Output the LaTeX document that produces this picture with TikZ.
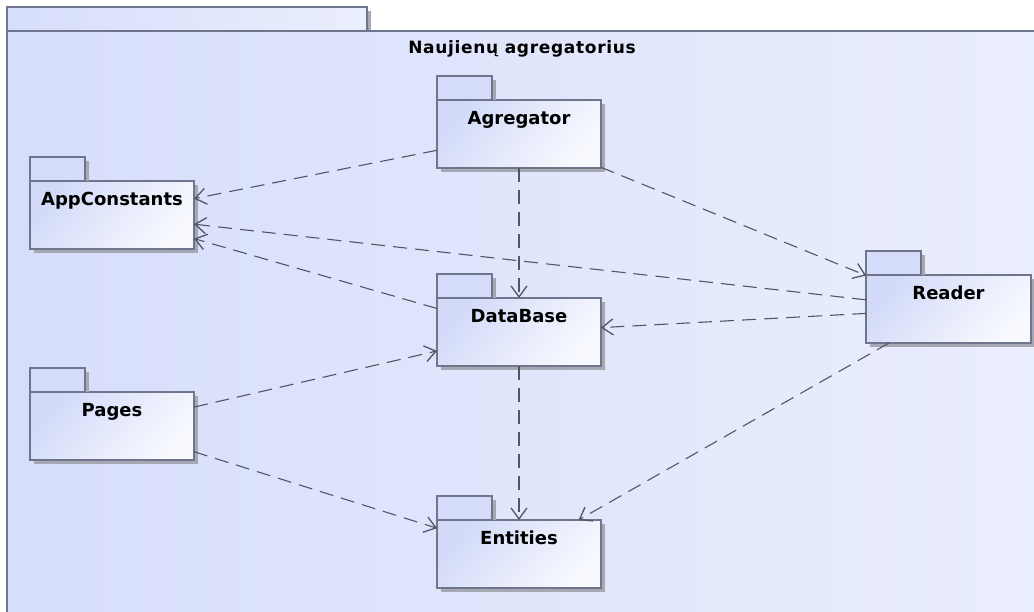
\documentclass[tikz,border=0pt]{standalone}
\usepackage{fontspec}
\newfontfamily\umlfont{DejaVu Sans}
\usetikzlibrary{arrows.meta,shadows}
\definecolor{pkgline}{RGB}{110,117,140}
\definecolor{pkgblue}{RGB}{210,218,248}
\definecolor{pkgwhite}{RGB}{248,249,254}
\definecolor{tabblue}{RGB}{212,220,249}
\definecolor{outerleft}{RGB}{215,222,251}
\definecolor{outerright}{RGB}{234,238,253}
\definecolor{shadowgray}{RGB}{166,169,180}
\definecolor{depgray}{RGB}{82,86,98}
\tikzset{
  pkg/.style={draw=pkgline,line width=1.3pt,top color=pkgblue,bottom color=pkgwhite,
    shading angle=50,minimum width=164pt,inner xsep=0pt,inner ysep=0pt,
    text height=24pt,text depth=44pt,outer sep=0pt,
    font=\umlfont\bfseries\fontsize{18}{20}\selectfont,
    drop shadow={shadow xshift=4pt,shadow yshift=-4pt,fill=shadowgray,opacity=1}},
  pkgtab/.style={draw=pkgline,line width=1.3pt,fill=tabblue},
  outerpkg/.style={draw=pkgline,line width=1.5pt,left color=outerleft,right color=outerright},
  dep/.style={draw=depgray,line width=1.1pt,dash pattern=on 14pt off 8pt,->}
}
\begin{document}
\begin{tikzpicture}[x=1pt,y=-1pt,>={Straight Barb[length=11pt,width=16pt,line width=1.3pt]}]
\useasboundingbox (0,0) rectangle (1034,611);
\clip (0,0) rectangle (1034,611);
% Naujienų agregatorius
\fill[shadowgray] (367,11) rectangle (371,31);
\draw[outerpkg] (7,7) rectangle (367,31);
\draw[outerpkg] (7,31) rectangle (1060,640);
\node[font=\umlfont\bfseries\fontsize{17}{20}\selectfont\addfontfeature{LetterSpace=4}] (title) at (522,49) {Naujienų agregatorius};
% paketai
\node[pkg] (agr) at (519,134) {Agregator};
\node[pkg] (app) at (112,215) {AppConstants};
\node[pkg] (db) at (519,332) {DataBase};
\node[pkg,minimum width=165pt] (rdr) at (948.5,309) {Reader};
\node[pkg] (pgs) at (112,426) {Pages};
\node[pkg] (ent) at (519,554) {Entities};
\foreach \p in {agr,app,db,rdr,pgs,ent}{
  \fill[shadowgray] (\p.north west) ++(55,-20) rectangle ++(4,20);
  \draw[pkgtab] (\p.north west) rectangle ++(55,-24);
}
% priklausomybės
\draw[dep] (agr) -- (app);
\draw[dep] (agr) -- (db);
\draw[dep] (agr) -- (rdr);
\draw[dep] (rdr) -- (app);
\draw[dep] (db) -- (app);
\draw[dep] (rdr) -- (db);
\draw[dep] (pgs) -- (db);
\draw[dep] (pgs) -- (ent);
\draw[dep] (db) -- (ent);
\draw[dep] (rdr) -- (ent);
\end{tikzpicture}
\end{document}
